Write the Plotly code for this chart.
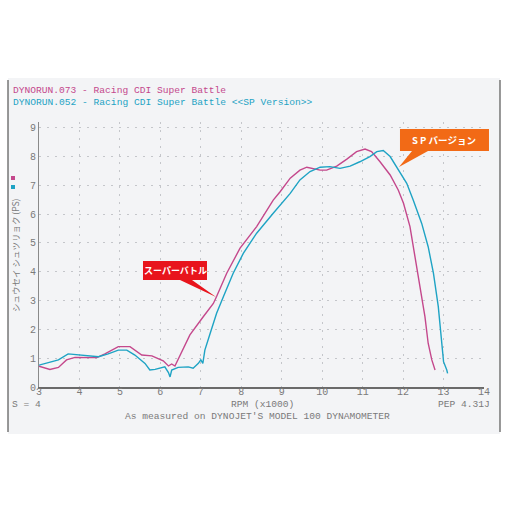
import plotly.graph_objects as go

# run 073 - Racing CDI Super Battle
rpm_073 = [3.00, 3.27, 3.48, 3.68, 3.89, 4.14, 4.43, 4.63, 4.96, 5.25, 5.54, 5.79, 6.07, 6.20,
           6.28, 6.36, 6.53, 6.73, 7.06, 7.31, 7.39, 7.64, 7.97, 8.38, 8.79, 8.96, 9.21, 9.45,
           9.62, 9.78, 9.95, 10.11, 10.36, 10.61, 10.85, 11.06, 11.22, 11.43, 11.68, 11.88,
           12.01, 12.17, 12.30, 12.42, 12.54, 12.62, 12.71, 12.79]
ps_073 = [0.72, 0.61, 0.68, 0.94, 1.03, 1.02, 1.02, 1.15, 1.40, 1.40, 1.11, 1.08, 0.91, 0.73,
          0.80, 0.73, 1.23, 1.81, 2.44, 2.90, 3.14, 3.95, 4.82, 5.57, 6.49, 6.78, 7.25, 7.53,
          7.63, 7.59, 7.53, 7.53, 7.67, 7.91, 8.17, 8.26, 8.17, 7.82, 7.36, 6.84,
          6.38, 5.57, 4.52, 3.48, 2.44, 1.52, 0.94, 0.59]

# run 052 - Racing CDI Super Battle <<SP Version>>
rpm_052 = [3.00, 3.23, 3.48, 3.72, 3.97, 4.22, 4.47, 4.71, 4.96, 5.17, 5.37, 5.62, 5.74, 5.87,
           6.11, 6.20, 6.24, 6.28, 6.44, 6.69, 6.81, 6.94, 7.00, 7.05, 7.10, 7.23, 7.39, 7.56,
           7.80, 8.05, 8.38, 8.79, 9.08, 9.21, 9.45, 9.70, 9.95, 10.19, 10.44, 10.69, 10.93,
           11.18, 11.35, 11.51, 11.68, 11.84, 12.09, 12.25, 12.46, 12.62, 12.75, 12.87, 12.96,
           13.00, 13.08, 13.10]
ps_052 = [0.76, 0.84, 0.94, 1.15, 1.11, 1.08, 1.05, 1.15, 1.28, 1.28, 1.11, 0.82, 0.59, 0.61,
          0.70, 0.50, 0.35, 0.59, 0.68, 0.70, 0.65, 0.82, 0.94, 0.82, 1.28, 1.86, 2.56, 3.14,
          3.95, 4.64, 5.34, 6.03, 6.49, 6.72, 7.19, 7.48, 7.63, 7.65, 7.59, 7.67, 7.82,
          8.00, 8.17, 8.21, 8.00, 7.65, 7.07, 6.49, 5.68, 4.87, 3.95, 2.79, 1.63,
          0.88, 0.59, 0.47]

x_ticks = list(range(3, 15))
y_ticks = list(range(0, 10))

MAGENTA = '#c4488c'
CYAN = '#1ea3c4'
GREY = '#7a7a7a'
MONO = 'Liberation Mono, DejaVu Sans Mono, monospace'

# plot area in pixels
L, R, T, B = 39, 484, 122, 387


def px(x):
    return (x - L) / (R - L)


def py(y):
    return (B - y) / (B - T)


fig = go.Figure()

fig.add_trace(go.Scatter(x=rpm_073, y=ps_073, mode='lines',
                         line=dict(color=MAGENTA, width=1.4), name='073'))
fig.add_trace(go.Scatter(x=rpm_052, y=ps_052, mode='lines',
                         line=dict(color=CYAN, width=1.4), name='052'))

shapes = [
    # scanned sheet
    dict(type='rect', xref='paper', yref='paper', x0=px(8), x1=px(500), y0=py(78), y1=py(434),
         fillcolor='#f3f4f6', line=dict(width=0), layer='below'),
    dict(type='line', xref='paper', yref='paper', x0=px(8), x1=px(8), y0=py(80), y1=py(432),
         line=dict(color='#555', width=1.2)),
    dict(type='line', xref='paper', yref='paper', x0=px(500), x1=px(500), y0=py(80), y1=py(432),
         line=dict(color='#555', width=1.2)),
    # legend squares
    dict(type='rect', xref='paper', yref='paper', x0=px(11), x1=px(15), y0=py(176), y1=py(180),
         fillcolor=MAGENTA, line=dict(width=0)),
    dict(type='rect', xref='paper', yref='paper', x0=px(11), x1=px(15), y0=py(185), y1=py(189),
         fillcolor=CYAN, line=dict(width=0)),
]


def callout(pts, color):
    d = 'M ' + ' L '.join(f'{px(a):.4f},{py(b):.4f}' for a, b in pts) + ' Z'
    return dict(type='path', xref='paper', yref='paper', path=d,
                fillcolor=color, line=dict(width=0))


shapes.append(callout([(143, 261), (207, 261), (207, 280), (192, 280), (216, 297),
                       (180, 280), (143, 280)], '#e8141c'))
shapes.append(callout([(400, 129), (489, 129), (489, 151), (428, 151), (399, 167),
                       (412, 151), (400, 151)], '#f26a16'))

annotations = [
    dict(text='DYNORUN.073 - Racing CDI Super Battle', x=px(11), y=py(90),
         xanchor='left', yanchor='middle', font=dict(family=MONO, size=9.6, color=MAGENTA)),
    dict(text='DYNORUN.052 - Racing CDI Super Battle &lt;&lt;SP Version&gt;&gt;', x=px(11), y=py(102),
         xanchor='left', yanchor='middle', font=dict(family=MONO, size=9.6, color=CYAN)),
    dict(text='シュウセイ シュツリョク (PS)', x=px(15), y=py(255), textangle=-90,
         xanchor='center', yanchor='middle', font=dict(family='Noto Sans CJK JP', size=8.5, color=GREY)),
    dict(text='S = 4', x=px(10), y=py(404), xanchor='left', yanchor='middle',
         font=dict(family=MONO, size=9.6, color=GREY)),
    dict(text='RPM (x1000)', x=px(262), y=py(404), xanchor='center', yanchor='middle',
         font=dict(family=MONO, size=9.6, color=GREY)),
    dict(text='PEP 4.31J', x=px(492), y=py(404), xanchor='right', yanchor='middle',
         font=dict(family=MONO, size=9.6, color=GREY)),
    dict(text="As measured on DYNOJET'S MODEL 100 DYNAMOMETER", x=px(257), y=py(416),
         xanchor='center', yanchor='middle', font=dict(family=MONO, size=9.6, color=GREY)),
    dict(text='<b>スーパーバトル</b>', x=px(175), y=py(270), xanchor='center', yanchor='middle',
         font=dict(family='Noto Sans CJK JP', size=9, color='white')),
    dict(text='<b>S P バージョン</b>', x=px(444), y=py(140), xanchor='center', yanchor='middle',
         font=dict(family='Noto Sans CJK JP', size=9.5, color='white')),
]
for a in annotations:
    a.update(xref='paper', yref='paper', showarrow=False)

fig.update_layout(
    width=508, height=508,
    margin=dict(l=L, r=508 - R, t=T, b=508 - B),
    paper_bgcolor='white',
    plot_bgcolor='rgba(0,0,0,0)',
    showlegend=False,
    shapes=shapes,
    annotations=annotations,
    xaxis=dict(range=[3, 14], tickvals=x_ticks, ticks='', showline=True, linecolor='#6a6a6a',
               linewidth=2, zeroline=False, showgrid=True, gridcolor='#c4c6ca',
               griddash='2px,6px', gridwidth=1, ticklabelstandoff=-6,
               tickfont=dict(family=MONO, size=10, color=GREY)),
    yaxis=dict(range=[0, 9.2], tickvals=y_ticks, ticks='', showline=True, linecolor='#8a8a8a',
               linewidth=1, zeroline=False, showgrid=True, gridcolor='#c4c6ca',
               griddash='2px,6px', gridwidth=1,
               tickfont=dict(family=MONO, size=10, color=GREY)),
)

# the page body has a default 8px margin; drop it so the figure sits at the window origin
fig.write_html('out.html', config={'displayModeBar': False},
               post_script="document.body.style.margin='0';")
